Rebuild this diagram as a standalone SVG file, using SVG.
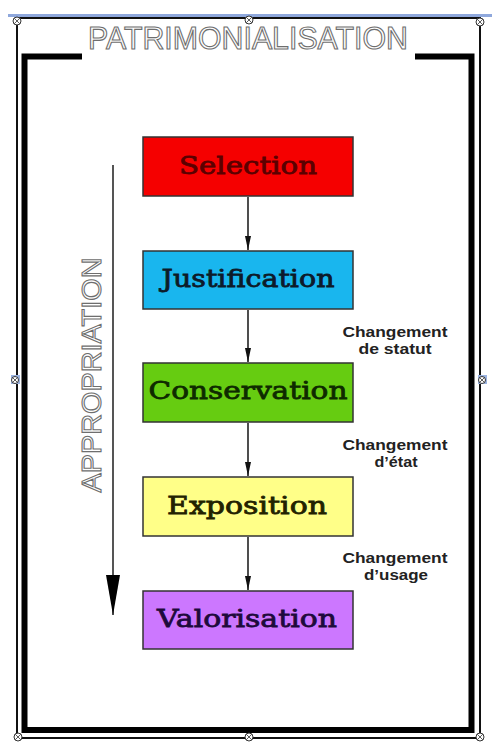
<svg xmlns="http://www.w3.org/2000/svg" width="499" height="744" viewBox="0 0 499 744">
<defs>
<style>
.box{stroke:#333;stroke-width:1.5}
.lbl{font-family:"DejaVu Serif","Liberation Serif",serif;font-size:25px;text-anchor:middle;stroke-width:0.8}
.note{font-family:"Liberation Sans",Arial,sans-serif;font-weight:bold;font-size:14px;fill:#222;text-anchor:middle}
.outline{font-family:"Liberation Sans",Arial,sans-serif;fill:#fff;stroke:#6e6e6e;stroke-width:1.1}
.conn{stroke:#222;stroke-width:1.6;fill:none;marker-end:url(#ah)}
.handle{fill:#fff;stroke:#333;stroke-width:1}
</style>
<marker id="ah" viewBox="0 0 14 6" refX="14" refY="3" markerWidth="14" markerHeight="6" markerUnits="userSpaceOnUse" orient="auto">
<path d="M0,0 L14,3 L0,6 Z" fill="#111"/>
</marker>
<marker id="ah2" viewBox="0 0 40 14" refX="40" refY="7" markerWidth="40" markerHeight="14" markerUnits="userSpaceOnUse" orient="auto">
<path d="M0,0 L40,7 L0,14 Z" fill="#000"/>
</marker>
</defs>
<rect width="499" height="744" fill="#fff"/>
<g id="frame">
<line x1="8" y1="15.5" x2="492" y2="15.5" stroke="#8fa8dc" stroke-width="3"/>
<rect x="17" y="18" width="463" height="720" fill="none" stroke="#111" stroke-width="2"/>
<path d="M82,56.5 L24.5,56.5 L24.5,730 L471.5,730 L471.5,56.5 L415,56.5" fill="none" stroke="#000" stroke-width="6"/>
</g>
<g id="title">
<text class="outline" x="248" y="49" font-size="31" textLength="320" lengthAdjust="spacingAndGlyphs" text-anchor="middle">PATRIMONIALISATION</text>
</g>
<g id="appropriation">
<line x1="113" y1="165" x2="113" y2="615" stroke="#555" stroke-width="2" marker-end="url(#ah2)"/>
<text class="outline" transform="translate(101,375) rotate(-90)" x="0" y="0" font-size="28" textLength="235" lengthAdjust="spacingAndGlyphs" text-anchor="middle">APPROPRIATION</text>
</g>
<g id="connectors">
<line class="conn" x1="248" y1="197" x2="248" y2="250"/>
<line class="conn" x1="248" y1="310" x2="248" y2="362"/>
<line class="conn" x1="248" y1="423" x2="248" y2="476"/>
<line class="conn" x1="248" y1="537" x2="248" y2="590"/>
</g>
<g id="selection">
<rect class="box" x="143" y="137" width="210" height="59" fill="#f50000"/>
<text class="lbl" x="248" y="174" fill="#5a0000" stroke="#5a0000" textLength="138" lengthAdjust="spacingAndGlyphs">Selection</text>
</g>
<g id="justification">
<rect class="box" x="143" y="251" width="210" height="58" fill="#19b6ee"/>
<text class="lbl" x="248" y="287" fill="#0d1a2a" stroke="#0d1a2a" textLength="173" lengthAdjust="spacingAndGlyphs">Justification</text>
</g>
<g id="conservation">
<rect class="box" x="143" y="363" width="210" height="59" fill="#66cc11"/>
<text class="lbl" x="248" y="399" fill="#0e2a00" stroke="#0e2a00" textLength="199" lengthAdjust="spacingAndGlyphs">Conservation</text>
</g>
<g id="exposition">
<rect class="box" x="143" y="477" width="210" height="59" fill="#ffff88"/>
<text class="lbl" x="247" y="514" fill="#222200" stroke="#222200" textLength="160" lengthAdjust="spacingAndGlyphs">Exposition</text>
</g>
<g id="valorisation">
<rect class="box" x="143" y="591" width="210" height="58" fill="#cc77ff"/>
<text class="lbl" x="247" y="627" fill="#1e0a3c" stroke="#1e0a3c" textLength="180" lengthAdjust="spacingAndGlyphs">Valorisation</text>
</g>
<g id="notes">
<text class="note" x="395" y="337" textLength="105" lengthAdjust="spacingAndGlyphs">Changement</text>
<text class="note" x="395" y="354" textLength="73" lengthAdjust="spacingAndGlyphs">de statut</text>
<text class="note" x="395" y="450" textLength="105" lengthAdjust="spacingAndGlyphs">Changement</text>
<text class="note" x="396" y="467" textLength="43" lengthAdjust="spacingAndGlyphs">d’état</text>
<text class="note" x="395" y="563" textLength="105" lengthAdjust="spacingAndGlyphs">Changement</text>
<text class="note" x="396" y="580" textLength="64" lengthAdjust="spacingAndGlyphs">d’usage</text>
</g>
<g id="handles">
<circle class="handle" cx="17" cy="21" r="4"/><path d="M14.2,18.2 L19.8,23.8 M19.8,18.2 L14.2,23.8" stroke="#333" stroke-width="0.8"/>
<circle class="handle" cx="249" cy="20" r="4"/><path d="M246.2,17.2 L251.8,22.8 M251.8,17.2 L246.2,22.8" stroke="#333" stroke-width="0.8"/>
<circle class="handle" cx="480" cy="22" r="4"/><path d="M477.2,19.2 L482.8,24.8 M482.8,19.2 L477.2,24.8" stroke="#333" stroke-width="0.8"/>
<rect x="11" y="375" width="9" height="9" fill="#9bb3e0"/>
<circle class="handle" cx="15" cy="380" r="3.5"/><path d="M12.5,377.5 L17.5,382.5 M17.5,377.5 L12.5,382.5" stroke="#333" stroke-width="0.8"/>
<rect x="478" y="375" width="9" height="9" fill="#9bb3e0"/>
<circle class="handle" cx="482" cy="380" r="3.5"/><path d="M479.5,377.5 L484.5,382.5 M484.5,377.5 L479.5,382.5" stroke="#333" stroke-width="0.8"/>
<circle class="handle" cx="18" cy="737" r="4"/><path d="M15.2,734.2 L20.8,739.8 M20.8,734.2 L15.2,739.8" stroke="#333" stroke-width="0.8"/>
<circle class="handle" cx="249" cy="737" r="4"/><path d="M246.2,734.2 L251.8,739.8 M251.8,734.2 L246.2,739.8" stroke="#333" stroke-width="0.8"/>
<circle class="handle" cx="480" cy="737" r="4"/><path d="M477.2,734.2 L482.8,739.8 M482.8,734.2 L477.2,739.8" stroke="#333" stroke-width="0.8"/>
</g>
</svg>
